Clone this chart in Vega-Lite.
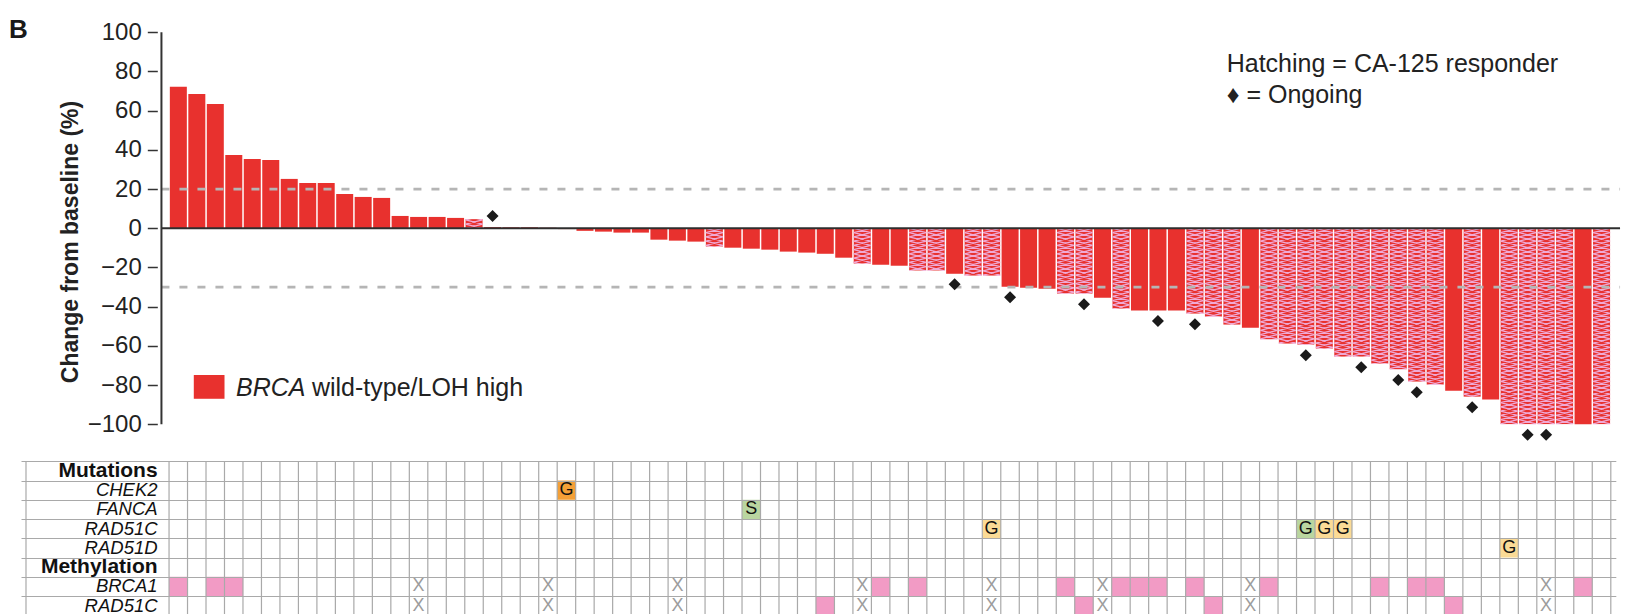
{
  "$schema": "https://vega.github.io/schema/vega-lite/v6.json",
  "autosize": {"type": "none"},
  "width": 1594.8,
  "height": 614,
  "padding": {"left": 21, "right": 16.2, "top": 0, "bottom": 0},
  "background": "white",
  "config": {"view": {"stroke": null}, "font": "Liberation Sans"},
  "datasets": {
    "bars": [
      {"patient": 1, "change": 72.2, "responder": false, "ongoing": false},
      {"patient": 2, "change": 68.5, "responder": false, "ongoing": false},
      {"patient": 3, "change": 63.4, "responder": false, "ongoing": false},
      {"patient": 4, "change": 37.4, "responder": false, "ongoing": false},
      {"patient": 5, "change": 35.4, "responder": false, "ongoing": false},
      {"patient": 6, "change": 34.9, "responder": false, "ongoing": false},
      {"patient": 7, "change": 25.2, "responder": false, "ongoing": false},
      {"patient": 8, "change": 23.1, "responder": false, "ongoing": false},
      {"patient": 9, "change": 23.1, "responder": false, "ongoing": false},
      {"patient": 10, "change": 17.5, "responder": false, "ongoing": false},
      {"patient": 11, "change": 16.0, "responder": false, "ongoing": false},
      {"patient": 12, "change": 15.5, "responder": false, "ongoing": false},
      {"patient": 13, "change": 6.3, "responder": false, "ongoing": false},
      {"patient": 14, "change": 5.8, "responder": false, "ongoing": false},
      {"patient": 15, "change": 5.8, "responder": false, "ongoing": false},
      {"patient": 16, "change": 5.3, "responder": false, "ongoing": false},
      {"patient": 17, "change": 4.7, "responder": true, "ongoing": false},
      {"patient": 18, "change": 0.6, "responder": false, "ongoing": true},
      {"patient": 19, "change": 0.5, "responder": false, "ongoing": false},
      {"patient": 20, "change": 0.5, "responder": false, "ongoing": false},
      {"patient": 21, "change": 0.3, "responder": false, "ongoing": false},
      {"patient": 22, "change": -0.4, "responder": false, "ongoing": false},
      {"patient": 23, "change": -1.3, "responder": false, "ongoing": false},
      {"patient": 24, "change": -1.7, "responder": false, "ongoing": false},
      {"patient": 25, "change": -2.2, "responder": false, "ongoing": false},
      {"patient": 26, "change": -2.2, "responder": false, "ongoing": false},
      {"patient": 27, "change": -5.8, "responder": false, "ongoing": false},
      {"patient": 28, "change": -6.3, "responder": false, "ongoing": false},
      {"patient": 29, "change": -6.8, "responder": false, "ongoing": false},
      {"patient": 30, "change": -9.4, "responder": true, "ongoing": false},
      {"patient": 31, "change": -9.9, "responder": false, "ongoing": false},
      {"patient": 32, "change": -10.4, "responder": false, "ongoing": false},
      {"patient": 33, "change": -10.9, "responder": false, "ongoing": false},
      {"patient": 34, "change": -11.9, "responder": false, "ongoing": false},
      {"patient": 35, "change": -12.4, "responder": false, "ongoing": false},
      {"patient": 36, "change": -13.0, "responder": false, "ongoing": false},
      {"patient": 37, "change": -15.0, "responder": false, "ongoing": false},
      {"patient": 38, "change": -18.1, "responder": true, "ongoing": false},
      {"patient": 39, "change": -18.6, "responder": false, "ongoing": false},
      {"patient": 40, "change": -19.1, "responder": false, "ongoing": false},
      {"patient": 41, "change": -21.6, "responder": true, "ongoing": false},
      {"patient": 42, "change": -21.6, "responder": true, "ongoing": false},
      {"patient": 43, "change": -23.2, "responder": false, "ongoing": true},
      {"patient": 44, "change": -24.2, "responder": true, "ongoing": false},
      {"patient": 45, "change": -24.2, "responder": true, "ongoing": false},
      {"patient": 46, "change": -29.8, "responder": false, "ongoing": true},
      {"patient": 47, "change": -30.3, "responder": false, "ongoing": false},
      {"patient": 48, "change": -30.8, "responder": false, "ongoing": false},
      {"patient": 49, "change": -33.4, "responder": true, "ongoing": false},
      {"patient": 50, "change": -33.4, "responder": true, "ongoing": true},
      {"patient": 51, "change": -35.4, "responder": false, "ongoing": false},
      {"patient": 52, "change": -41.0, "responder": true, "ongoing": false},
      {"patient": 53, "change": -42.0, "responder": false, "ongoing": false},
      {"patient": 54, "change": -42.0, "responder": false, "ongoing": true},
      {"patient": 55, "change": -42.0, "responder": false, "ongoing": false},
      {"patient": 56, "change": -43.6, "responder": true, "ongoing": true},
      {"patient": 57, "change": -45.1, "responder": true, "ongoing": false},
      {"patient": 58, "change": -49.2, "responder": true, "ongoing": false},
      {"patient": 59, "change": -50.7, "responder": false, "ongoing": false},
      {"patient": 60, "change": -56.8, "responder": true, "ongoing": false},
      {"patient": 61, "change": -58.9, "responder": true, "ongoing": false},
      {"patient": 62, "change": -59.4, "responder": true, "ongoing": true},
      {"patient": 63, "change": -61.4, "responder": true, "ongoing": false},
      {"patient": 64, "change": -65.5, "responder": true, "ongoing": false},
      {"patient": 65, "change": -65.5, "responder": true, "ongoing": true},
      {"patient": 66, "change": -69.1, "responder": true, "ongoing": false},
      {"patient": 67, "change": -72.1, "responder": true, "ongoing": true},
      {"patient": 68, "change": -78.3, "responder": true, "ongoing": true},
      {"patient": 69, "change": -79.8, "responder": true, "ongoing": false},
      {"patient": 70, "change": -82.9, "responder": false, "ongoing": false},
      {"patient": 71, "change": -86.0, "responder": true, "ongoing": true},
      {"patient": 72, "change": -87.4, "responder": false, "ongoing": false},
      {"patient": 73, "change": -100, "responder": true, "ongoing": false},
      {"patient": 74, "change": -100, "responder": true, "ongoing": true},
      {"patient": 75, "change": -100, "responder": true, "ongoing": true},
      {"patient": 76, "change": -100, "responder": true, "ongoing": false},
      {"patient": 77, "change": -100, "responder": false, "ongoing": false},
      {"patient": 78, "change": -100, "responder": true, "ongoing": false}
    ],
    "cells": [
      {"col": 22, "row": 1, "label": "G", "kind": "orange"},
      {"col": 32, "row": 2, "label": "S", "kind": "green"},
      {"col": 45, "row": 3, "label": "G", "kind": "yellow"},
      {"col": 62, "row": 3, "label": "G", "kind": "green"},
      {"col": 63, "row": 3, "label": "G", "kind": "yellow"},
      {"col": 64, "row": 3, "label": "G", "kind": "yellow"},
      {"col": 73, "row": 4, "label": "G", "kind": "yellow"},
      {"col": 1, "row": 6, "label": "", "kind": "pink"},
      {"col": 3, "row": 6, "label": "", "kind": "pink"},
      {"col": 4, "row": 6, "label": "", "kind": "pink"},
      {"col": 39, "row": 6, "label": "", "kind": "pink"},
      {"col": 41, "row": 6, "label": "", "kind": "pink"},
      {"col": 49, "row": 6, "label": "", "kind": "pink"},
      {"col": 52, "row": 6, "label": "", "kind": "pink"},
      {"col": 53, "row": 6, "label": "", "kind": "pink"},
      {"col": 54, "row": 6, "label": "", "kind": "pink"},
      {"col": 56, "row": 6, "label": "", "kind": "pink"},
      {"col": 60, "row": 6, "label": "", "kind": "pink"},
      {"col": 66, "row": 6, "label": "", "kind": "pink"},
      {"col": 68, "row": 6, "label": "", "kind": "pink"},
      {"col": 69, "row": 6, "label": "", "kind": "pink"},
      {"col": 77, "row": 6, "label": "", "kind": "pink"},
      {"col": 36, "row": 7, "label": "", "kind": "pink"},
      {"col": 50, "row": 7, "label": "", "kind": "pink"},
      {"col": 57, "row": 7, "label": "", "kind": "pink"},
      {"col": 70, "row": 7, "label": "", "kind": "pink"},
      {"col": 14, "row": 6, "label": "X", "kind": "none"},
      {"col": 21, "row": 6, "label": "X", "kind": "none"},
      {"col": 28, "row": 6, "label": "X", "kind": "none"},
      {"col": 38, "row": 6, "label": "X", "kind": "none"},
      {"col": 45, "row": 6, "label": "X", "kind": "none"},
      {"col": 51, "row": 6, "label": "X", "kind": "none"},
      {"col": 59, "row": 6, "label": "X", "kind": "none"},
      {"col": 75, "row": 6, "label": "X", "kind": "none"},
      {"col": 14, "row": 7, "label": "X", "kind": "none"},
      {"col": 21, "row": 7, "label": "X", "kind": "none"},
      {"col": 28, "row": 7, "label": "X", "kind": "none"},
      {"col": 38, "row": 7, "label": "X", "kind": "none"},
      {"col": 45, "row": 7, "label": "X", "kind": "none"},
      {"col": 51, "row": 7, "label": "X", "kind": "none"},
      {"col": 59, "row": 7, "label": "X", "kind": "none"},
      {"col": 75, "row": 7, "label": "X", "kind": "none"}
    ],
    "rows": [
      {"row": 0, "name": "Mutations", "header": true},
      {"row": 1, "name": "CHEK2", "header": false},
      {"row": 2, "name": "FANCA", "header": false},
      {"row": 3, "name": "RAD51C", "header": false},
      {"row": 4, "name": "RAD51D", "header": false},
      {"row": 5, "name": "Methylation", "header": true},
      {"row": 6, "name": "BRCA1", "header": false},
      {"row": 7, "name": "RAD51C", "header": false}
    ]
  },
  "layer": [
    {
      "layer": [
        {
          "data": {"name": "bars"},
          "mark": {"type": "bar", "orient": "vertical", "width": 17, "fill": "#e8312e"},
          "encoding": {
            "x": {"field": "patient", "type": "quantitative", "scale": {"domain": [-7.2419, 78.5], "nice": false, "zero": false}, "axis": null},
            "y": {
              "field": "change", "type": "quantitative",
              "scale": {"domain": [-196.79, 116.48], "nice": false, "zero": false},
              "axis": {
                "orient": "left", "offset": -136.3,
                "values": [-100, -80, -60, -40, -20, 0, 20, 40, 60, 80, 100],
                "domain": false, "grid": false,
                "tickSize": 10, "tickWidth": 1.5, "tickColor": "#333333",
                "labelFontSize": 24, "labelColor": "#222222", "labelPadding": 6, "labelOverlap": false, "labelFont": "Liberation Sans",
                "title": "Change from baseline (%)", "titleFont": "Liberation Sans", "titleFontSize": 23, "titleFontWeight": "bold", "titleColor": "#222222",
                "titleX": -87.3, "titleY": 241.5, "titleAngle": -90, "titleAlign": "center", "titleBaseline": "middle"
              }
            }
          }
        },
        {
          "data": {"name": "bars"},
          "transform": [{"filter": "datum.responder && datum.change < 0"}],
          "mark": {"type": "point", "shape": "M-1,0L1,0.5L-1,1L1,1.5L-1,2L1,2.5L-1,3L1,3.5L-1,4L1,4.5L-1,5L1,5.5L-1,6L1,6.5L-1,7L1,7.5L-1,8L1,8.5L-1,9L1,9.5L-1,10L1,10.5L-1,11L1,11.5L-1,12L1,12.5L-1,13L1,13.5L-1,14L1,14.5L-1,15L1,15.5L-1,16L1,16.5L-1,17L1,17.5L-1,18L1,18.5L-1,19L1,19.5L-1,20L1,20.5L-1,21L1,21.5L-1,22L1,22.5L-1,23L1,23.5L-1,24M1,0L-1,0.5L1,1L-1,1.5L1,2L-1,2.5L1,3L-1,3.5L1,4L-1,4.5L1,5L-1,5.5L1,6L-1,6.5L1,7L-1,7.5L1,8L-1,8.5L1,9L-1,9.5L1,10L-1,10.5L1,11L-1,11.5L1,12L-1,12.5L1,13L-1,13.5L1,14L-1,14.5L1,15L-1,15.5L1,16L-1,16.5L1,17L-1,17.5L1,18L-1,18.5L1,19L-1,19.5L1,20L-1,20.5L1,21L-1,21.5L1,22L-1,22.5L1,23L-1,23.5L1,24", "size": 289, "filled": false, "stroke": "#efaad6", "strokeWidth": 1.2, "opacity": 1},
          "encoding": {
            "x": {"field": "patient", "type": "quantitative"},
            "y": {"datum": 0}
          }
        },
        {
          "data": {"name": "bars"},
          "transform": [{"filter": "datum.responder && datum.change > 0"}],
          "mark": {"type": "point", "shape": "M-1,0L1,-0.5L-1,-1L1,-1.5L-1,-2M1,0L-1,-0.5L1,-1L-1,-1.5L1,-2", "size": 289, "filled": false, "stroke": "#efaad6", "strokeWidth": 1.2, "opacity": 1},
          "encoding": {
            "x": {"field": "patient", "type": "quantitative"},
            "y": {"datum": 0}
          }
        },
        {
          "data": {"name": "bars"},
          "transform": [{"filter": "datum.responder && datum.change < 0"}],
          "mark": {"type": "bar", "orient": "vertical", "width": 18.8, "fill": "white"},
          "encoding": {
            "x": {"field": "patient", "type": "quantitative"},
            "y": {"field": "change", "type": "quantitative"},
            "y2": {"datum": -110}
          }
        },
        {
          "data": {"name": "bars"},
          "transform": [{"filter": "datum.responder && datum.change > 0"}],
          "mark": {"type": "bar", "orient": "vertical", "width": 18.8, "fill": "white"},
          "encoding": {
            "x": {"field": "patient", "type": "quantitative"},
            "y": {"field": "change", "type": "quantitative"},
            "y2": {"datum": 12}
          }
        },
        {
          "data": {"values": [{"level": 20}, {"level": -30}]},
          "mark": {"type": "rule", "stroke": "#b5b5b5", "strokeWidth": 2.8, "strokeDash": [8, 10]},
          "encoding": {
            "y": {"field": "level", "type": "quantitative"},
            "x": {"datum": 0.086},
            "x2": {"datum": 79}
          }
        },
        {
          "data": {"values": [{}]},
          "mark": {"type": "rule", "stroke": "#2e2e2e", "strokeWidth": 2},
          "encoding": {"y": {"datum": 0}, "x": {"datum": 0.086}, "x2": {"datum": 79}}
        },
        {
          "data": {"values": [{}]},
          "mark": {"type": "rule", "stroke": "#333333", "strokeWidth": 2},
          "encoding": {"x": {"datum": 0.086}, "y": {"datum": -100}, "y2": {"datum": 100}}
        },
        {
          "data": {"name": "bars"},
          "transform": [{"filter": "datum.ongoing && datum.change < 0"}],
          "mark": {"type": "point", "shape": "diamond", "size": 144, "filled": true, "fill": "#1a1a1a", "strokeWidth": 0, "opacity": 1, "yOffset": 10.5},
          "encoding": {"x": {"field": "patient", "type": "quantitative"}, "y": {"field": "change", "type": "quantitative"}}
        },
        {
          "data": {"name": "bars"},
          "transform": [{"filter": "datum.ongoing && datum.change > 0"}],
          "mark": {"type": "point", "shape": "diamond", "size": 144, "filled": true, "fill": "#1a1a1a", "strokeWidth": 0, "opacity": 1, "yOffset": -11},
          "encoding": {"x": {"field": "patient", "type": "quantitative"}, "y": {"field": "change", "type": "quantitative"}}
        },
        {
          "data": {"values": [{}]},
          "mark": {"type": "text", "text": "B", "fontSize": 26, "fontWeight": "bold", "align": "left", "baseline": "alphabetic", "fill": "#1a1a1a"},
          "encoding": {"x": {"datum": -8.156}, "y": {"datum": 97.09}}
        },
        {
          "data": {"values": [{}]},
          "mark": {"type": "text", "text": ["Hatching = CA-125 responder", "♦ = Ongoing"], "lineHeight": 30.4, "fontSize": 25, "align": "left", "baseline": "alphabetic", "fill": "#222222"},
          "encoding": {"x": {"datum": 57.72}, "y": {"datum": 79.59}}
        },
        {
          "data": {"values": [{}]},
          "mark": {"type": "point", "shape": "M-1.28,-0.99H1.28V0.99H-1.28Z", "size": 576, "filled": true, "fill": "#e8312e", "strokeWidth": 0, "opacity": 1},
          "encoding": {"x": {"datum": 2.667}, "y": {"datum": -80.92}}
        },
        {
          "data": {"values": [{}]},
          "mark": {"type": "text", "text": "BRCA", "fontSize": 25, "fontStyle": "italic", "align": "left", "baseline": "alphabetic", "fill": "#222222"},
          "encoding": {"x": {"datum": 4.118}, "y": {"datum": -85.56}}
        },
        {
          "data": {"values": [{}]},
          "mark": {"type": "text", "text": "wild-type/LOH high", "fontSize": 25, "align": "left", "baseline": "alphabetic", "fill": "#222222"},
          "encoding": {"x": {"datum": 8.226}, "y": {"datum": -85.56}}
        }
      ]
    },
    {
      "layer": [
        {
          "data": {"name": "cells"},
          "transform": [{"filter": "datum.kind !== 'none'"}],
          "mark": {"type": "point", "shape": "M-1,-1.035H1V1.035H-1Z", "size": 345.96, "filled": true, "strokeWidth": 0, "opacity": 1},
          "encoding": {
            "x": {"field": "col", "type": "quantitative", "scale": {"domain": [-7.2419, 78.5], "nice": false, "zero": false}, "axis": null},
            "y": {
              "field": "row", "type": "quantitative",
              "scale": {"domain": [-24.462, 7.434], "nice": false, "zero": false, "reverse": true},
              "axis": {"orient": "right", "values": [-0.5, 0.5, 1.5, 2.5, 3.5, 4.5, 5.5, 6.5], "grid": true, "gridColor": "#a9a9a9", "gridWidth": 1.2, "gridOpacity": 1, "domain": false, "ticks": false, "labels": false, "title": null, "zindex": 1}
            },
            "color": {"field": "kind", "type": "nominal", "scale": {"domain": ["orange", "green", "yellow", "pink"], "range": ["#f4a037", "#bad6a0", "#fbdb96", "#f29bc5"]}, "legend": null}
          }
        },
        {
          "data": {"name": "cells"},
          "transform": [{"filter": "datum.label !== ''"}],
          "mark": {"type": "text", "align": "center", "baseline": "middle", "fontSize": 18},
          "encoding": {
            "x": {"field": "col", "type": "quantitative"},
            "y": {"field": "row", "type": "quantitative"},
            "text": {"field": "label"},
            "color": {"condition": {"test": "datum.label === 'X'", "value": "#9c9c9c"}, "value": "#111111"}
          }
        },
        {
          "data": {"name": "bars"},
          "mark": {"type": "rule", "stroke": "#a9a9a9", "strokeWidth": 1.2, "xOffset": -9.3},
          "encoding": {
            "x": {"field": "patient", "type": "quantitative"},
            "y": {"datum": -0.5},
            "y2": {"datum": 7.5}
          }
        },
        {
          "data": {"values": [{}]},
          "mark": {"type": "rule", "stroke": "#a9a9a9", "strokeWidth": 1.2},
          "encoding": {"x": {"datum": 78.5}, "y": {"datum": -0.5}, "y2": {"datum": 7.5}}
        },
        {
          "data": {"values": [{}]},
          "mark": {"type": "rule", "stroke": "#a9a9a9", "strokeWidth": 1.2},
          "encoding": {"x": {"datum": -7.2419}, "y": {"datum": -0.5}, "y2": {"datum": 7.5}}
        },
        {
          "data": {"name": "rows"},
          "transform": [{"filter": "datum.header"}],
          "mark": {"type": "text", "align": "right", "baseline": "middle", "fontSize": 21, "fontWeight": "bold", "dx": -11.5, "fill": "#111111"},
          "encoding": {"x": {"datum": 0.5}, "y": {"field": "row", "type": "quantitative"}, "text": {"field": "name"}}
        },
        {
          "data": {"name": "rows"},
          "transform": [{"filter": "!datum.header"}],
          "mark": {"type": "text", "align": "right", "baseline": "middle", "fontSize": 18.5, "fontStyle": "italic", "dx": -11.5, "fill": "#111111"},
          "encoding": {"x": {"datum": 0.5}, "y": {"field": "row", "type": "quantitative"}, "text": {"field": "name"}}
        }
      ]
    }
  ],
  "resolve": {"scale": {"y": "independent"}}
}
